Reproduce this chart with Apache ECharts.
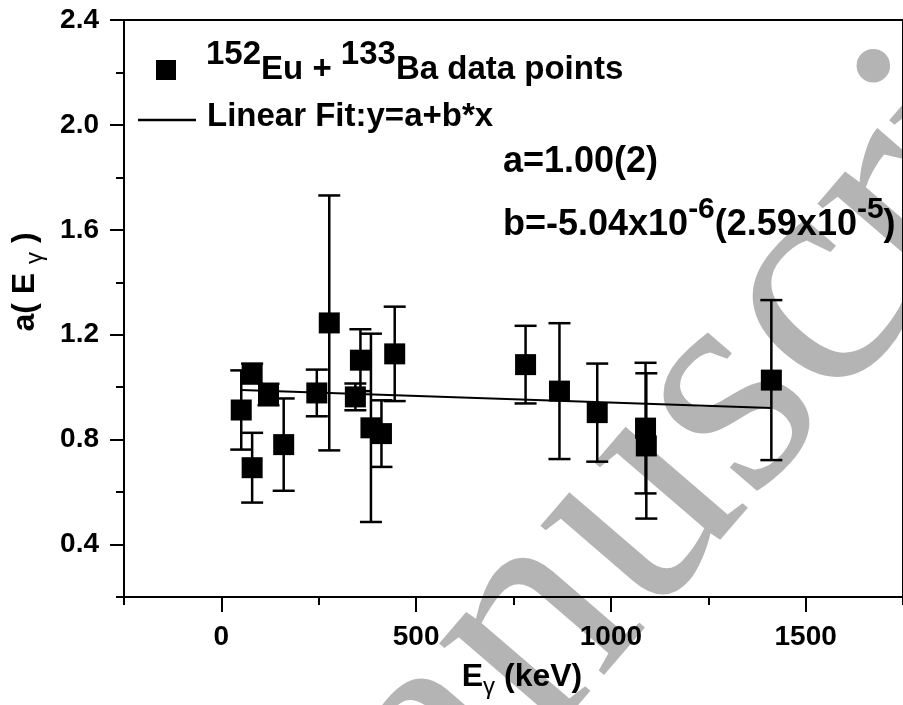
<!DOCTYPE html>
<html>
<head>
<meta charset="utf-8">
<script src="https://cdn.jsdelivr.net/npm/echarts@6/dist/echarts.min.js"></script>
<style>
  html, body { margin: 0; padding: 0; background: #fff; }
  #chart { width: 903px; height: 705px; }
</style>
</head>
<body>
<div id="chart"></div>
<script>
// Gamma energies (keV), measured a(E) and its uncertainty
const energy = [51, 79, 121, 79, 160, 245, 277, 357, 344, 384, 411, 445, 781, 868, 965, 1089, 1091, 1412];
const aValue = [0.913, 1.052, 0.972, 0.693, 0.781, 0.978, 1.245, 1.103, 0.963, 0.845, 0.823, 1.127, 1.086, 0.985, 0.903, 0.844, 0.776, 1.027];
const aError = [0.151, 0.038, 0.041, 0.133, 0.176, 0.089, 0.486, 0.118, 0.051, 0.359, 0.127, 0.180, 0.148, 0.259, 0.187, 0.249, 0.277, 0.305];

// Linear fit drawn across the data range
const fitEnergy = [51, 1412];
const fitValue = [0.989, 0.921];

// Labelled ticks
const xTickValues = [0, 500, 1000, 1500];
const yTickValues = [0.4, 0.8, 1.2, 1.6, 2.0, 2.4];

const FONT = 'Liberation Sans, Arial, sans-serif';
const points = energy.map((e, i) => [e, aValue[i]]);
const bars = energy.map((e, i) => [e, aValue[i] - aError[i], aValue[i] + aError[i]]);
const fitLine = fitEnergy.map((e, i) => [e, fitValue[i]]);

const chart = echarts.init(document.getElementById('chart'), null, { renderer: 'canvas' });

// Bold main text with a lowered, lighter gamma
const subRich = {
  m: { fontFamily: FONT, fontWeight: 'bold', fontSize: 32, lineHeight: 32, verticalAlign: 'top', fill: '#000' },
  s: { fontFamily: FONT, fontWeight: 'normal', fontSize: 24, lineHeight: 24, verticalAlign: 'top', padding: [14, 0, 0, 0], fill: '#000' }
};

const legendTok = (valign, pad) => ({
  fontFamily: FONT, fontWeight: 'bold', fontSize: 33, lineHeight: 33,
  verticalAlign: valign, padding: pad, color: '#000'
});

const legendBase = {
  orient: 'vertical', padding: 0,
  itemWidth: 58, itemHeight: 20, symbolKeepAspect: true,
  itemStyle: { color: '#000', opacity: 1 },
  textStyle: {
    color: '#000',
    rich: {
      sup0: legendTok('bottom', [0, 0, 15, 6]),
      sup: legendTok('bottom', [0, 0, 15, 0]),
      main: legendTok('top', [0, 0, 0, 0]),
      main2: legendTok('bottom', [0, 0, 3, 6])
    }
  }
};

chart.setOption({
  animation: false,
  backgroundColor: '#fff',
  grid: {
    left: 124, top: 20, bottom: 108, right: -5,
    show: true, borderColor: '#000', borderWidth: 2, backgroundColor: 'transparent'
  },
  legend: [
    Object.assign({}, legendBase, {
      left: 156, top: 38.5,
      data: [{ name: 'points', icon: 'path://M0,0H10V10H0Z' }],
      formatter: () => '{sup0|152}{main|Eu + }{sup|133}{main|Ba data points}'
    }),
    Object.assign({}, legendBase, {
      left: 138, top: 100.5,
      data: [{ name: 'fit', icon: 'path://M0,0H100V4H0Z' }],
      formatter: () => '{main2|Linear Fit:y=a+b*x}'
    })
  ],
  xAxis: [{
    type: 'value', min: -250, max: 1750, interval: 250, position: 'bottom',
    splitLine: { show: false },
    axisLine: { onZero: false, lineStyle: { color: '#000', width: 2 } },
    axisTick: { show: true, length: 15, customValues: xTickValues, lineStyle: { color: '#000', width: 2 } },
    axisLabel: {
      customValues: xTickValues, margin: 26, color: '#000', fontFamily: FONT, fontWeight: 'bold', fontSize: 28,
      formatter: v => String(v)
    }
  }, {
    type: 'value', min: -250, max: 1750, interval: 250, position: 'bottom',
    splitLine: { show: false },
    axisLine: { show: false, onZero: false },
    axisTick: { show: true, length: 8, lineStyle: { color: '#000', width: 2 } },
    axisLabel: { show: false }
  }],
  yAxis: [{
    type: 'value', min: 0.2, max: 2.4, interval: 0.2, position: 'left',
    splitLine: { show: false },
    axisLine: { onZero: false, lineStyle: { color: '#000', width: 2 } },
    axisTick: { show: true, length: 14, customValues: yTickValues, lineStyle: { color: '#000', width: 2 } },
    axisLabel: {
      customValues: yTickValues, margin: 25, color: '#000', fontFamily: FONT, fontWeight: 'bold', fontSize: 28,
      formatter: v => v.toFixed(1)
    }
  }, {
    type: 'value', min: 0.2, max: 2.4, interval: 0.2, position: 'left',
    splitLine: { show: false },
    axisLine: { show: false, onZero: false },
    axisTick: { show: true, length: 8, lineStyle: { color: '#000', width: 2 } },
    axisLabel: { show: false }
  }],
  graphic: [
    {
      type: 'text', z: -10, x: 206, y: 1010, rotation: 49.3 * Math.PI / 180,
      style: { legacy: false, text: 'Manuscript', font: '317px "Liberation Serif", "Times New Roman", serif', fill: '#b4b4b4', align: 'left', verticalAlign: 'middle' }
    },
    {
      type: 'text', x: 503, y: 144.5,
      style: { legacy: false, text: 'a=1.00(2)', font: 'bold 36px ' + FONT, fill: '#000', align: 'left', verticalAlign: 'top' }
    },
    {
      type: 'text', x: 503, y: 194.5,
      style: {
        legacy: false,
        text: '{m|b=-5.04x10}{p|-6}{m|(2.59x10}{p|-5}{m|)}',
        align: 'left', verticalAlign: 'top',
        rich: {
          m: { fontFamily: FONT, fontWeight: 'bold', fontSize: 36, lineHeight: 36, verticalAlign: 'top', padding: [13, 0, 0, 0], fill: '#000' },
          p: { fontFamily: FONT, fontWeight: 'bold', fontSize: 30, lineHeight: 30, verticalAlign: 'top', padding: [0, 0, 0, 0], fill: '#000' }
        }
      }
    },
    {
      type: 'text', x: 522, y: 661,
      style: { legacy: false, text: '{m|E}{s|γ}{m| (keV)}', align: 'center', verticalAlign: 'top', rich: subRich }
    },
    {
      type: 'text', x: 9, y: 282, rotation: Math.PI / 2,
      style: { legacy: false, text: '{m|a( E }{s|γ}{m| )}', align: 'center', verticalAlign: 'top', rich: subRich }
    }
  ],
  series: [
    {
      name: 'errors',
      type: 'custom',
      data: bars,
      z: 2,
      renderItem: (params, api) => {
        const x = api.value(0);
        const lo = api.coord([x, api.value(1)]);
        const hi = api.coord([x, api.value(2)]);
        const hw = 11;
        const st = { stroke: '#000', lineWidth: 2.5 };
        return {
          type: 'group',
          children: [
            { type: 'line', shape: { x1: lo[0], y1: lo[1], x2: hi[0], y2: hi[1] }, style: st },
            { type: 'line', shape: { x1: lo[0] - hw, y1: lo[1], x2: lo[0] + hw, y2: lo[1] }, style: st },
            { type: 'line', shape: { x1: hi[0] - hw, y1: hi[1], x2: hi[0] + hw, y2: hi[1] }, style: st }
          ]
        };
      }
    },
    {
      name: 'points',
      type: 'scatter',
      data: points,
      symbol: 'rect',
      symbolSize: 21,
      itemStyle: { color: '#000', opacity: 1 },
      z: 3
    },
    {
      name: 'fit',
      type: 'line',
      data: fitLine,
      symbol: 'none',
      lineStyle: { color: '#000', width: 2 },
      itemStyle: { color: '#000' },
      z: 4
    }
  ]
});
</script>
</body>
</html>
